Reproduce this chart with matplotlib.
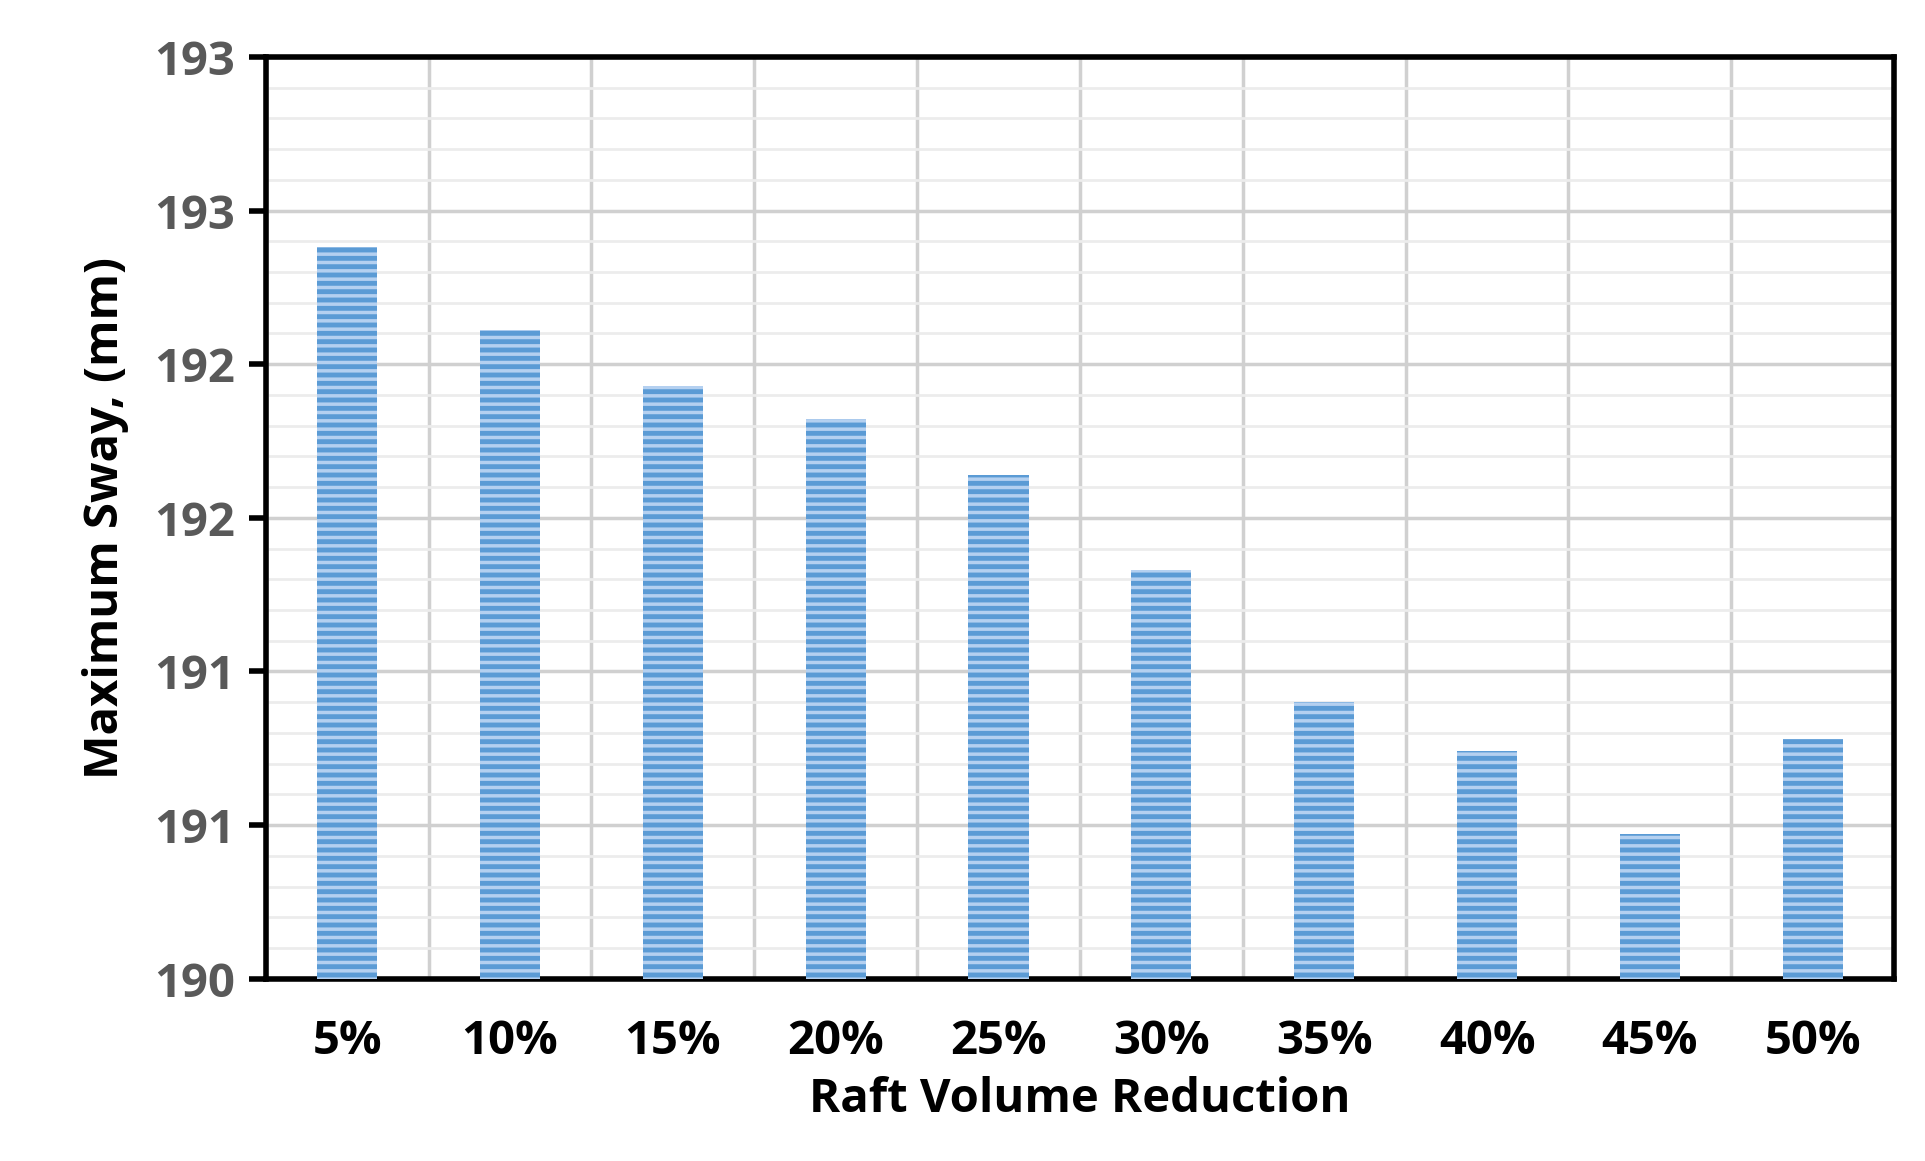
import matplotlib.pyplot as plt
import numpy as np
from matplotlib.ticker import MultipleLocator, FuncFormatter

categories = ['5%', '10%', '15%', '20%', '25%', '30%', '35%', '40%', '45%', '50%']
sway = [192.38, 192.11, 191.93, 191.82, 191.64, 191.33, 190.90, 190.74, 190.47, 190.78]

plt.rcParams['font.family'] = ['Open Sans', 'DejaVu Sans']
plt.rcParams['hatch.linewidth'] = 2.5

fig = plt.figure(figsize=(19.25, 11.61), dpi=100)
ax = fig.add_axes([0.138, 0.157, 0.846, 0.794])

x = np.arange(len(categories))
ax.bar(x, np.array(sway) - 190, bottom=190, width=0.37, color='#5b9bd5',
       edgecolor='#b4d0f0', linewidth=0, hatch='--', zorder=3)

ax.set_xlim(-0.5, len(categories) - 0.5)
ax.set_ylim(190, 193)
ax.yaxis.set_major_locator(MultipleLocator(0.5))
ax.yaxis.set_minor_locator(MultipleLocator(0.1))
ax.yaxis.set_major_formatter(FuncFormatter(lambda v, p: f'{int(np.floor(v + 0.5))}'))
ax.set_xticks(x)
ax.set_xticklabels(categories)
ax.set_xticks(np.arange(-0.5, len(categories), 1), minor=True)

ax.grid(which='major', axis='y', color='#d0d0d0', linewidth=2.5, zorder=0)
ax.grid(which='minor', axis='y', color='#ececec', linewidth=2, zorder=0)
ax.grid(which='minor', axis='x', color='#d0d0d0', linewidth=2.5, zorder=0)

for s in ax.spines.values():
    s.set_linewidth(4)
ax.tick_params(axis='y', which='major', length=12, width=4, labelsize=34,
               labelcolor='#595959', pad=10)
ax.tick_params(axis='y', which='minor', length=0)
ax.tick_params(axis='x', which='both', length=0, labelsize=34, pad=28)
for lab in ax.get_xticklabels() + ax.get_yticklabels():
    lab.set_fontweight('bold')

ax.set_xlabel('Raft Volume Reduction', fontsize=34, fontweight='bold', labelpad=8)
ax.set_ylabel('Maximum Sway, (mm)', fontsize=34, fontweight='bold', labelpad=18)

fig.savefig('out.png', dpi=100)
